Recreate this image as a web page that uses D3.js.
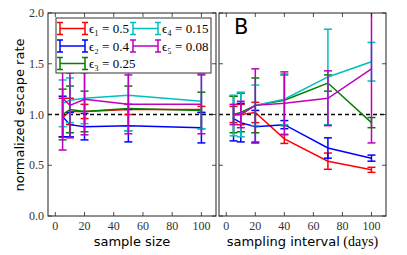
<!DOCTYPE html>
<html><head><meta charset="utf-8">
<script src="https://cdn.jsdelivr.net/npm/d3@7"></script>
<style>body{margin:0;background:#fff}svg{display:block}</style>
</head><body>
<svg id="c" width="407" height="255"></svg>
<script>
// ---- data ----
const seriesNames = ["\u03f5\u2081 = 0.5", "\u03f5\u2082 = 0.4", "\u03f5\u2083 = 0.25", "\u03f5\u2084 = 0.15", "\u03f5\u2085 = 0.08"];
const seriesColors = ["#ff0000", "#0000ff", "#008000", "#00bfbf", "#bf00bf"];
const sampleSize = [5, 10, 20, 50, 100];
const leftMean = [
  [0.97, 1.03, 1.03, 1.05, 1.05],
  [0.98, 0.90, 0.88, 0.89, 0.87],
  [1.00, 1.05, 1.03, 1.06, 1.04],
  [1.11, 1.14, 1.16, 1.19, 1.13],
  [1.16, 1.09, 1.15, 1.10, 1.10]
];
const leftErr = [
  [0.19, 0.13, 0.07, 0.05, 0.03],
  [0.20, 0.12, 0.13, 0.16, 0.15],
  [0.25, 0.23, 0.20, 0.22, 0.18],
  [0.23, 0.22, 0.25, 0.35, 0.27],
  [0.51, 0.32, 0.35, 0.29, 0.29]
];
const interval = [5, 10, 20, 40, 70, 100];
const rightMean = [
  [1.00, 1.00, 1.02, 0.76, 0.54, 0.455],
  [0.96, 0.92, 0.88, 0.90, 0.67, 0.57],
  [1.00, 1.02, 1.09, 1.14, 1.31, 0.92],
  [0.99, 1.00, 1.09, 1.15, 1.37, 1.52],
  [1.00, 1.00, 1.09, 1.11, 1.16, 1.45]
];
const rightErr = [
  [0.08, 0.10, 0.10, 0.045, 0.08, 0.025],
  [0.22, 0.19, 0.16, 0.04, 0.10, 0.03],
  [0.18, 0.19, 0.27, 0.25, 0.08, 0.05],
  [0.20, 0.22, 0.20, 0.25, 0.47, 0.19],
  [0.10, 0.13, 0.36, 0.31, 0.27, 0.73]
];
const xTicks = [0, 20, 40, 60, 80, 100];
const yTicks = [0.0, 0.5, 1.0, 1.5, 2.0];

// ---- layout ----
const svg = d3.select("#c");
const yTop = 13, yBot = 216;
const panels = [
  {x0: 48, x1: 216, xs: sampleSize, mean: leftMean, err: leftErr, label: "sample size", yLabels: true, id: "L"},
  {x0: 219, x1: 386, xs: interval, mean: rightMean, err: rightErr, label: "sampling interval", yLabels: false, id: "R"}
];
const y = d3.scaleLinear().domain([0, 2]).range([yBot, yTop]);
const serif = "'Liberation Serif', 'DejaVu Serif', serif";
const sans = "'DejaVu Sans', sans-serif";
const cap = 4;

panels.forEach(p => {
  const x = d3.scaleLinear().domain([-5, 110]).range([p.x0, p.x1]);
  const g = svg.append("g");
  g.append("clipPath").attr("id", "clip" + p.id).append("rect")
    .attr("x", p.x0).attr("y", yTop).attr("width", p.x1 - p.x0).attr("height", yBot - yTop);
  const pg = g.append("g").attr("clip-path", `url(#clip${p.id})`);
  pg.append("line").attr("x1", p.x0).attr("x2", p.x1).attr("y1", y(1)).attr("y2", y(1))
    .attr("stroke", "#000").attr("stroke-width", 1.5).attr("stroke-dasharray", "4,3");
  p.mean.forEach((m, si) => {
    const col = seriesColors[si];
    const pts = p.xs.map((xv, i) => ({x: xv, m: m[i], e: p.err[si][i]}));
    pg.append("path").datum(pts)
      .attr("d", d3.line().x(d => x(d.x)).y(d => y(d.m)))
      .attr("fill", "none").attr("stroke", col).attr("stroke-width", 1.5);
    const eb = pg.append("g").attr("stroke", col).attr("stroke-width", 1.5);
    pts.forEach(d => {
      const cx = x(d.x);
      eb.append("line").attr("x1", cx).attr("x2", cx).attr("y1", y(d.m - d.e)).attr("y2", y(d.m + d.e));
      [d.m - d.e, d.m + d.e].forEach(v => eb.append("line")
        .attr("x1", cx - cap).attr("x2", cx + cap).attr("y1", y(v)).attr("y2", y(v)));
    });
  });
  g.append("rect").attr("x", p.x0).attr("y", yTop).attr("width", p.x1 - p.x0).attr("height", yBot - yTop)
    .attr("fill", "none").attr("stroke", "#222").attr("stroke-width", 1);
  const tk = g.append("g").attr("stroke", "#222").attr("stroke-width", 0.8);
  xTicks.forEach(t => {
    tk.append("line").attr("x1", x(t)).attr("x2", x(t)).attr("y1", yBot).attr("y2", yBot - 4);
    tk.append("line").attr("x1", x(t)).attr("x2", x(t)).attr("y1", yTop).attr("y2", yTop + 4);
    g.append("text").attr("x", x(t)).attr("y", 230).attr("text-anchor", "middle")
      .attr("font-family", serif).attr("font-size", 12).attr("fill", "#333").text(t);
  });
  yTicks.forEach(t => {
    tk.append("line").attr("x1", p.x0).attr("x2", p.x0 + 4).attr("y1", y(t)).attr("y2", y(t));
    tk.append("line").attr("x1", p.x1).attr("x2", p.x1 - 4).attr("y1", y(t)).attr("y2", y(t));
    if (p.yLabels) g.append("text").attr("x", 44).attr("y", y(t) + 4).attr("text-anchor", "end")
      .attr("font-family", serif).attr("font-size", 12).attr("fill", "#333").text(t.toFixed(1));
  });
  const xl = g.append("text").attr("x", (p.x0 + p.x1) / 2).attr("y", 246).attr("text-anchor", "middle")
    .attr("font-family", sans).attr("font-size", 13).attr("fill", "#000");
  xl.append("tspan").text(p.label);
  if (p.id === "R") xl.append("tspan").attr("font-family", serif).attr("font-size", 14).text(" (days)");
});

svg.append("text").attr("transform", "translate(24,115) rotate(-90)").attr("text-anchor", "middle")
  .attr("font-family", sans).attr("font-size", 13).text("normalized escape rate");

svg.append("text").attr("x", 234).attr("y", 34).attr("font-family", sans).attr("font-size", 21).text("B");

const lg = svg.append("g");
lg.append("rect").attr("x", 56).attr("y", 18).attr("width", 155).attr("height", 55)
  .attr("fill", "#fff").attr("stroke", "#333").attr("stroke-width", 1);
seriesNames.forEach((nm, i) => {
  const col = Math.floor(i / 3), row = i % 3;
  const sx = 60 + col * 73, sy = 28.5 + row * 17.5;
  const s = lg.append("g").attr("stroke", seriesColors[i]).attr("stroke-width", 1.5);
  s.append("line").attr("x1", sx).attr("x2", sx + 25).attr("y1", sy).attr("y2", sy);
  [sx, sx + 25].forEach(px => {
    s.append("line").attr("x1", px).attr("x2", px).attr("y1", sy - 6).attr("y2", sy + 6);
    s.append("line").attr("x1", px - 3).attr("x2", px + 3).attr("y1", sy - 6).attr("y2", sy - 6);
    s.append("line").attr("x1", px - 3).attr("x2", px + 3).attr("y1", sy + 6).attr("y2", sy + 6);
  });
  lg.append("text").attr("x", sx + 29).attr("y", sy + 4.5).attr("font-family", serif)
    .attr("font-size", 13).attr("fill", "#000").text(nm);
});
</script>
</body></html>
